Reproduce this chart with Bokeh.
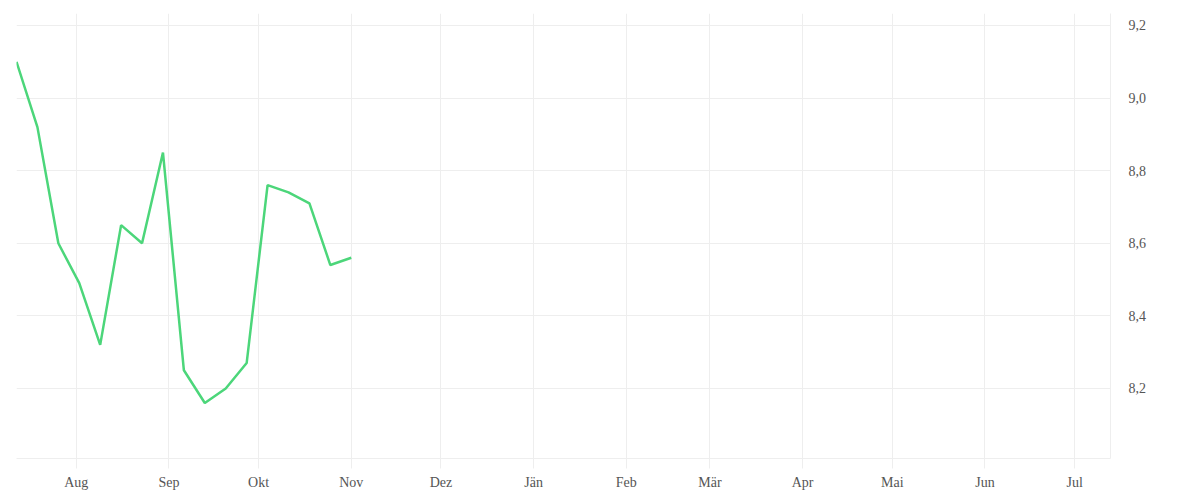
import datetime as dt
from bokeh.plotting import figure
from bokeh.models import ColumnDataSource, FixedTicker, CustomJSTickFormatter, Range1d
from bokeh.embed import file_html
from bokeh.resources import INLINE

# data: weekly values
start = dt.datetime(2024, 7, 12)
dates = [start + dt.timedelta(days=7 * i) for i in range(17)]
values = [9.10, 8.92, 8.60, 8.49, 8.32, 8.65, 8.60, 8.85, 8.25, 8.16, 8.20, 8.27,
          8.76, 8.74, 8.71, 8.54, 8.56]
month_labels = ['Jän', 'Feb', 'Mär', 'Apr', 'Mai', 'Jun', 'Jul', 'Aug', 'Sep', 'Okt', 'Nov', 'Dez']
month_ticks = [dt.datetime(2024, m, 1) for m in range(8, 13)] + [dt.datetime(2025, m, 1) for m in range(1, 8)]
y_ticks = [8.2, 8.4, 8.6, 8.8, 9.0, 9.2]

def ms(d):
    return (d - dt.datetime(1970, 1, 1)).total_seconds() * 1000.0

src = ColumnDataSource(dict(x=dates, y=values))

p = figure(width=1184, height=492, x_axis_type="datetime", y_axis_location="right",
           output_backend="svg", toolbar_location=None,
           x_range=Range1d(ms(dt.datetime(2024, 7, 12)), ms(dt.datetime(2025, 7, 13))),
           y_range=Range1d(8.007, 9.233),
           min_border_left=16, min_border_right=74, min_border_top=13, min_border_bottom=34)
p.outline_line_color = None
p.background_fill_color = "white"
p.border_fill_color = "white"

p.line("x", "y", source=src, line_color="#4cd67a", line_width=2.5)

FONT = "Liberation Serif"
xa = p.xaxis[0]
xa.ticker = FixedTicker(ticks=[ms(d) for d in month_ticks])
xa.formatter = CustomJSTickFormatter(args=dict(names=month_labels),
                                     code="return names[new Date(tick).getUTCMonth()];")
xa.axis_line_color = "#eeeeee"
xa.major_tick_line_color = "#eeeeee"
xa.major_tick_out = 10
xa.major_tick_in = 0
xa.minor_tick_line_color = None
xa.major_label_text_font = FONT
xa.major_label_text_font_size = "14px"
xa.major_label_text_color = "#555555"
xa.major_label_standoff = 6

ya = p.yaxis[0]
ya.ticker = FixedTicker(ticks=y_ticks)
ya.formatter = CustomJSTickFormatter(code="return tick.toFixed(1).replace('.', ',');")
ya.axis_line_color = "#eeeeee"
ya.major_tick_line_color = None
ya.minor_tick_line_color = None
ya.major_label_text_font = FONT
ya.major_label_text_font_size = "14px"
ya.major_label_text_color = "#555555"
ya.major_label_standoff = 12

p.xgrid.grid_line_color = "#eeeeee"
p.ygrid.grid_line_color = "#eeeeee"

open("out.html", "w").write(file_html(p, INLINE))
